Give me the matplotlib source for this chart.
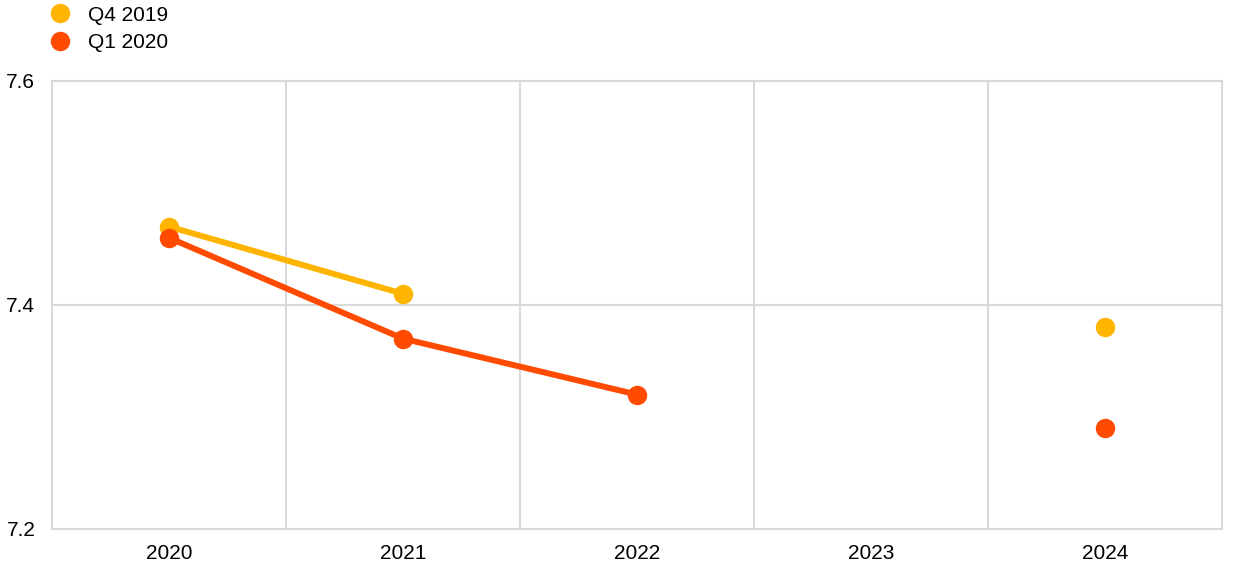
import matplotlib.pyplot as plt
from matplotlib.lines import Line2D

plt.rcParams['font.family'] = ['Liberation Sans', 'DejaVu Sans']

years = ['2020', '2021', '2022', '2023', '2024']
q4_2019 = [7.47, 7.41, None, None, 7.38]
q1_2020 = [7.46, 7.37, 7.32, None, 7.29]

yellow = '#FFB400'
orange = '#FF4B00'
grid = '#D9D9D9'

fig = plt.figure(figsize=(12.4, 5.74), dpi=100)
ax = fig.add_axes([0.0419, 0.0784, 0.9436, 0.7805])

x = list(range(len(years)))


def draw(vals, color):
    # connected segments plus markers, gaps where missing
    seg_x, seg_y = [], []
    for i, v in enumerate(vals):
        if v is None:
            if seg_x:
                ax.plot(seg_x, seg_y, color=color, lw=4.3, marker='o', ms=13,
                        solid_capstyle='round', zorder=3)
            seg_x, seg_y = [], []
        else:
            seg_x.append(i)
            seg_y.append(v)
    if seg_x:
        ax.plot(seg_x, seg_y, color=color, lw=4.3, marker='o', ms=13,
                solid_capstyle='round', zorder=3)


draw(q4_2019, yellow)
draw(q1_2020, orange)

ax.set_xlim(-0.5, len(years) - 0.5)
ax.set_ylim(7.2, 7.6)
ax.set_yticks([7.2, 7.4, 7.6])
ax.set_yticklabels(['7.2', '7.4', '7.6'])
ax.set_xticks(x)
ax.set_xticklabels(years)

# vertical grid between categories
for b in [i + 0.5 for i in range(len(years) - 1)]:
    ax.axvline(b, color=grid, lw=1.5, zorder=1)
ax.axhline(7.4, color=grid, lw=1.5, zorder=1)

for s in ax.spines.values():
    s.set_color(grid)
    s.set_linewidth(1.5)

ax.tick_params(axis='both', length=0, labelsize=15, colors='black')
ax.tick_params(axis='y', pad=12)
ax.tick_params(axis='x', pad=11)

handles = [
    Line2D([], [], color=yellow, marker='o', ls='none', ms=13),
    Line2D([], [], color=orange, marker='o', ls='none', ms=13),
]
fig.legend(handles, ['Q4 2019', 'Q1 2020'], loc='upper left',
           bbox_to_anchor=(0.040, 0.990), frameon=False, fontsize=15,
           handletextpad=0.85, labelspacing=0.4, handlelength=1.0,
           borderaxespad=0, borderpad=0)

fig.savefig('out.png', dpi=100)
